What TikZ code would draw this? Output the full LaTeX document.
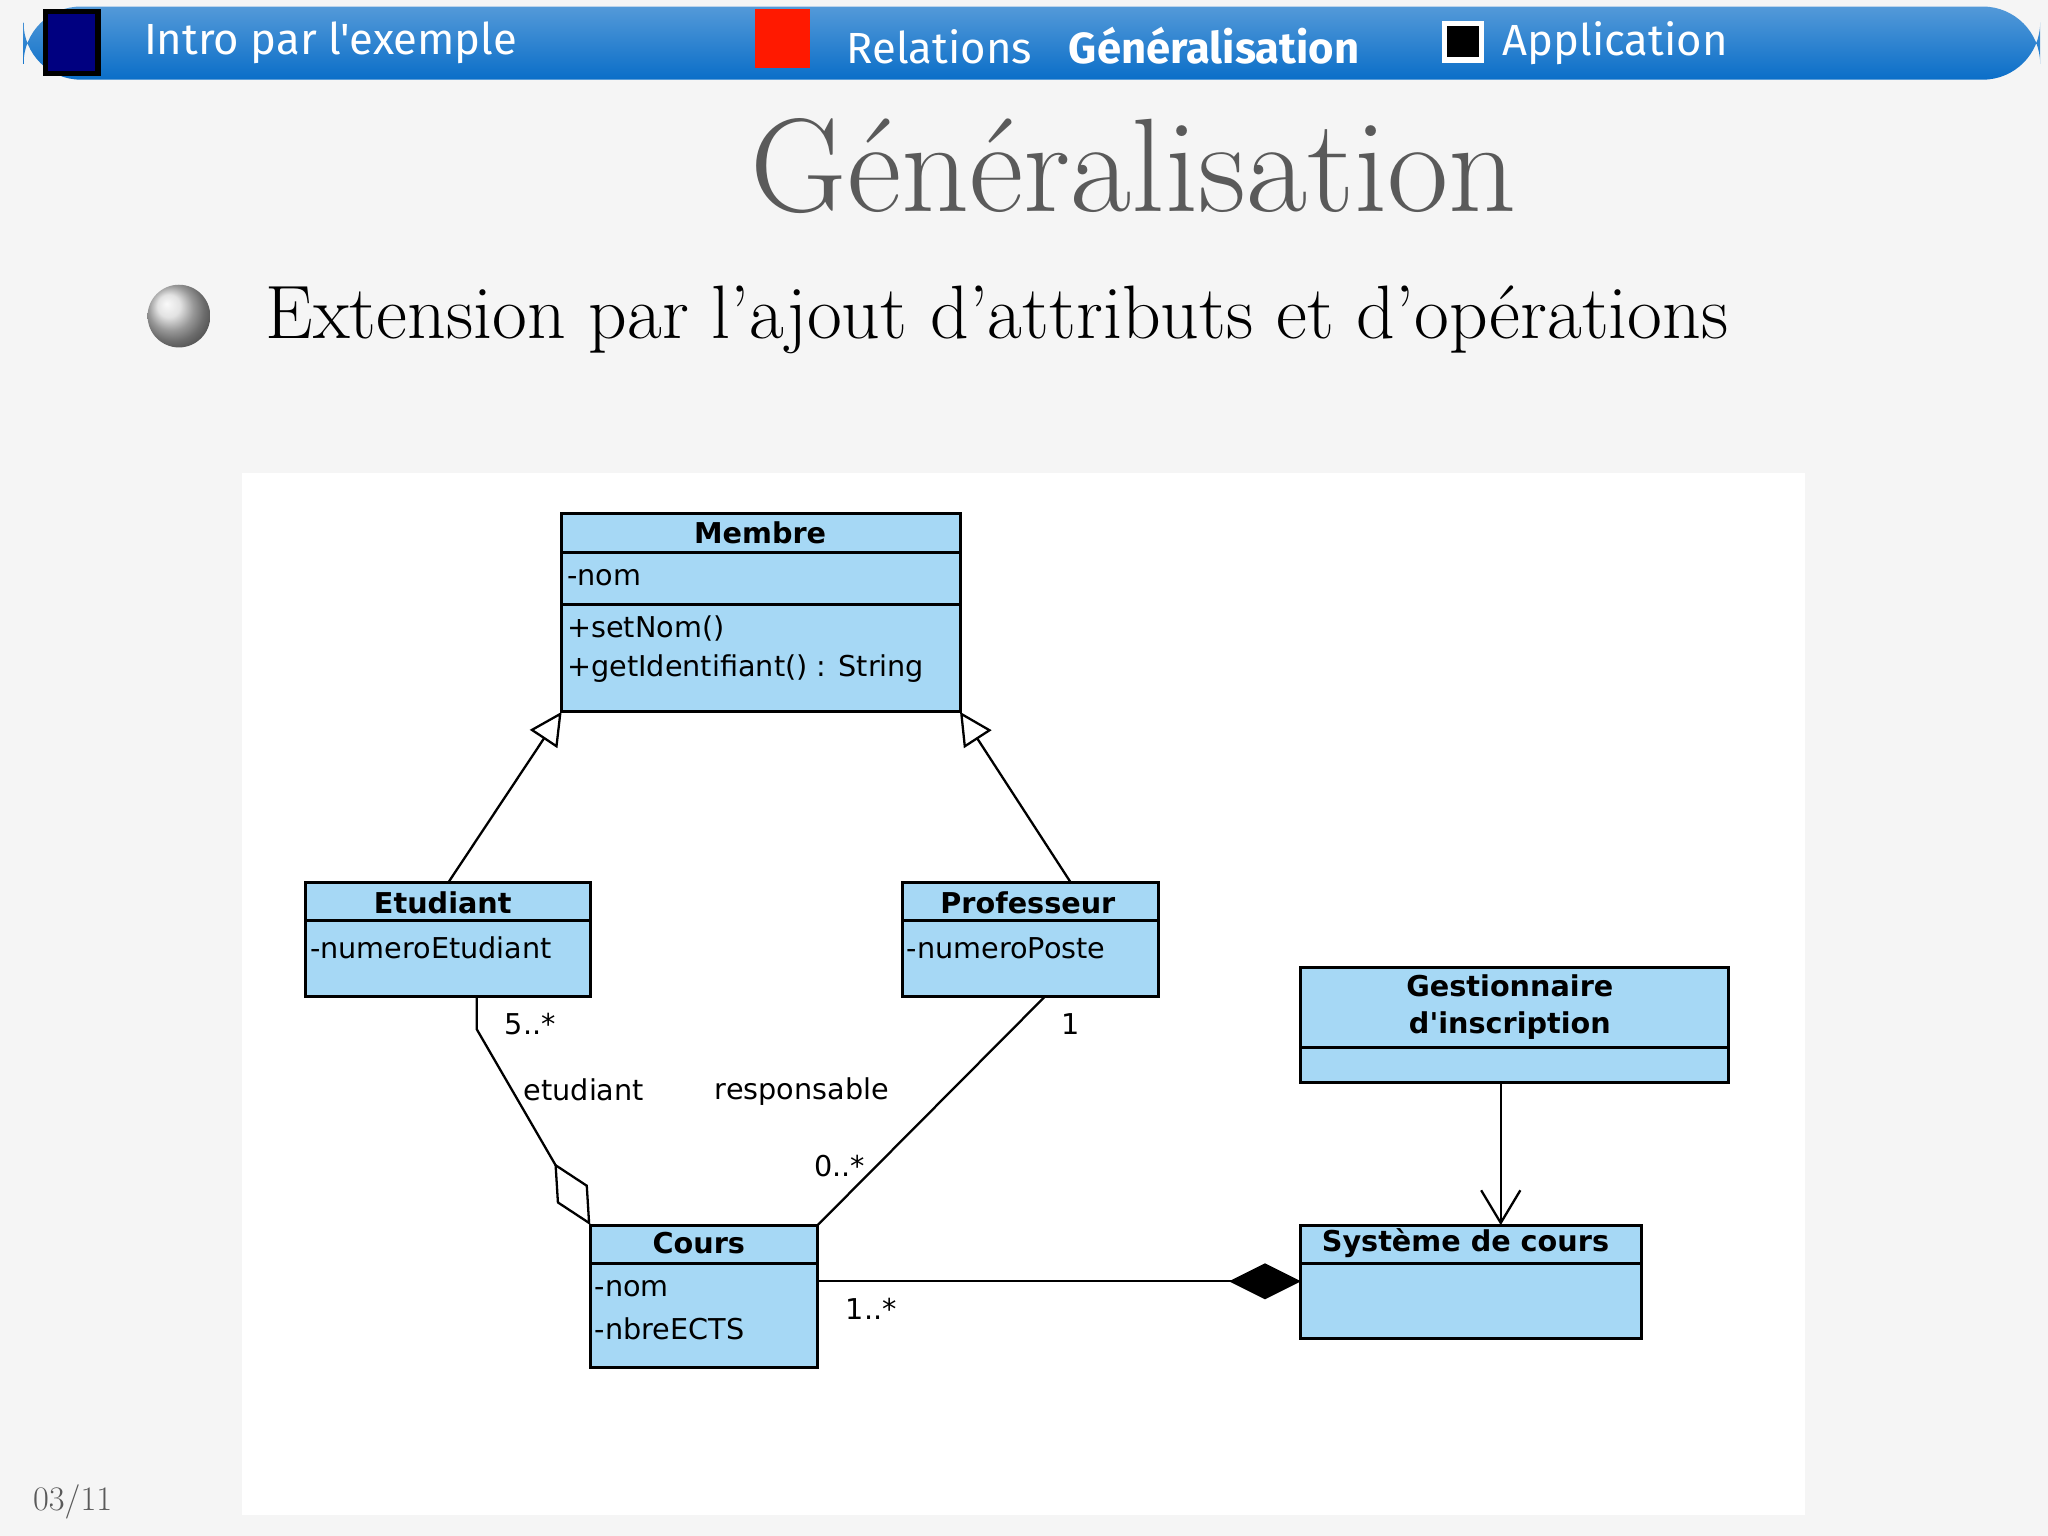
\documentclass[tikz,border=0pt]{standalone}
\usepackage{fontspec}
\newfontfamily\uml{DejaVu Sans}
\newfontfamily\hdr{Fira Sans}
\usetikzlibrary{arrows.meta}
\definecolor{umlblue}{RGB}{166,216,245}
\definecolor{barblue}{RGB}{10,110,200}
\definecolor{titlegrey}{RGB}{90,90,90}
\tikzset{
  cls/.style={draw=black,fill=umlblue,line width=1.3pt},
  div/.style={line width=1.3pt},
  ut/.style={font=\uml\fontsize{12.5}{15}\selectfont,inner sep=0pt},
  ub/.style={font=\uml\bfseries\fontsize{12.5}{15}\selectfont,inner sep=0pt},
  lnk/.style={line width=1pt},
  hd/.style={font=\hdr\fontsize{19}{22}\selectfont,text=white,anchor=west,inner sep=0pt}
}
\begin{document}
\begin{tikzpicture}[x=0.02cm,y=-0.02cm]
\useasboundingbox (0,0) rectangle (1568,1176);
\fill[gray!8] (0,0) rectangle (1568,1176);
% header
\shade[top color=barblue!70!white,bottom color=barblue,rounded corners=25pt] (18,5) rectangle (1562,61);
\fill[black] (33,7) rectangle (77,58); \fill[blue!50!black] (37,11) rectangle (73,54);
\node[hd] (h1) at (110,33) {Intro par l'exemple};
\fill[red!80!orange] (578,7) rectangle (620,52);
\node[hd] (h2) at (648,36) {Relations};
\node[hd,font=\hdr\bfseries\fontsize{19}{22}\selectfont] (h3) at (818,35) {Généralisation};
\fill[white] (1104,16) rectangle (1136,48); \fill[black] (1108,20) rectangle (1132,44);
\node[hd] (h4) at (1150,33) {Application};
% title
\node[text=titlegrey,font=\fontsize{58}{64}\selectfont] (title) at (868,127) {Généralisation};
\shade[ball color=gray!30] (137,242) circle (24);
\node[anchor=west,font=\fontsize{33}{38}\selectfont,inner sep=0pt] (sub) at (203,245) {Extension par l'ajout d'attributs et d'opérations};
\node[anchor=west,font=\fontsize{15}{18}\selectfont,text=titlegrey,inner sep=0pt] (pg) at (25,1150) {03/11};
% panel
\fill[white] (185,362) rectangle (1382,1160);
% classes
\draw[cls] (430,393) rectangle (735,545);
\draw[div] (430,423) -- (735,423); \draw[div] (430,463) -- (735,463);
\node[ub] (m) at (582,408) {Membre};
\node[ut,anchor=west] at (434,442) {-nom};
\node[ut,anchor=west] at (434,481) {+setNom()};
\node[ut,anchor=west] at (434,512) {+getIdentifiant() : String};
\draw[cls] (234,676) rectangle (452,763); \draw[div] (234,705) -- (452,705);
\node[ub] at (339,691) {Etudiant};
\node[ut,anchor=west] at (237,726) {-numeroEtudiant};
\draw[cls] (691,676) rectangle (887,763); \draw[div] (691,705) -- (887,705);
\node[ub] at (787,691) {Professeur};
\node[ut,anchor=west] at (694,726) {-numeroPoste};
\draw[cls] (996,741) rectangle (1323,829); \draw[div] (996,802) -- (1323,802);
\node[ub,align=center] at (1156,771) {Gestionnaire\\[1pt]d'inscription};
\draw[cls] (452,938) rectangle (626,1047); \draw[div] (452,967) -- (626,967);
\node[ub] at (535,952) {Cours};
\node[ut,anchor=west] at (455,987) {-nom};
\node[ut,anchor=west] at (455,1017) {-nbreECTS};
\draw[cls] (996,938) rectangle (1257,1025); \draw[div] (996,967) -- (1257,967);
\node[ub] at (1122,952) {Système de cours};
% links
\coordinate (e1) at (343,676); \coordinate (m1) at (430,545);
\coordinate (p1) at (820,676); \coordinate (m2) at (735,545);
\draw[lnk,-{Triangle[open,length=0.5cm,width=0.5cm]}] (e1) -- (m1);
\draw[lnk,-{Triangle[open,length=0.5cm,width=0.5cm]}] (p1) -- (m2);
\coordinate (e2) at (365,763); \coordinate (e3) at (365,788); \coordinate (c1) at (452,938);
\draw[lnk,{Diamond[open,length=1.1cm,width=0.55cm]}-] (c1) -- (e3) -- (e2);
\coordinate (p2) at (800,763); \coordinate (c2) at (626,938);
\draw[lnk] (p2) -- (c2);
\coordinate (c3) at (626,981); \coordinate (s1) at (996,981);
\draw[lnk,-{Diamond[length=1.1cm,width=0.55cm]}] (c3) -- (s1);
\coordinate (g1) at (1149,829); \coordinate (s2) at (1149,938);
\draw[lnk,-{Straight Barb[length=0.5cm,width=0.6cm]}] (g1) -- (s2);
% labels
\node[ut] at (406,784) {5..*};
\node[ut] at (447,834) {etudiant};
\node[ut] at (614,836) {responsable};
\node[ut] at (820,784) {1};
\node[ut] at (643,893) {0..*};
\node[ut] at (667,1002) {1..*};
\end{tikzpicture}
\end{document}
